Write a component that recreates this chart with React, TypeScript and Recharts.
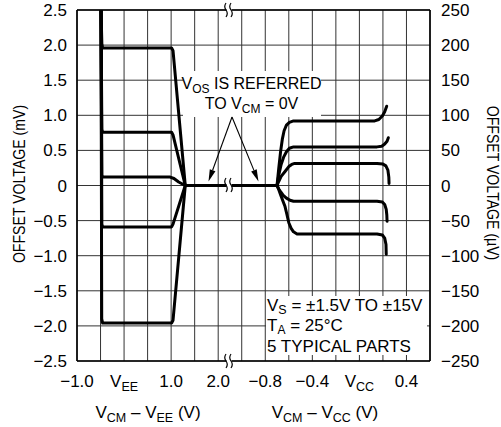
import React from 'react';
import { LineChart, Line, XAxis, YAxis, CartesianGrid, ReferenceLine } from 'recharts';

// ---- axis ticks -------------------------------------------------------
// Left section of x axis: VCM − VEE (V); right section: VCM − VCC (V)
const eeTickValues = [-1.0, 0, 1.0, 2.0];
const eeTickLabels = ['−1.0', 'V_EE', '1.0', '2.0'];
const ccTickValues = [-0.8, -0.4, 0, 0.4];
const ccTickLabels = ['−0.8', '−0.4', 'V_CC', '0.4'];

const mvTicks = [-2.5, -2.0, -1.5, -1.0, -0.5, 0, 0.5, 1.0, 1.5, 2.0, 2.5];
const mvTickLabels = ['−2.5', '−2.0', '−1.5', '−1.0', '−0.5', '0', '0.5', '1.0', '1.5', '2.0', '2.5'];
const uvTicks = [-250, -200, -150, -100, -50, 0, 50, 100, 150, 200, 250];
const uvTickLabels = ['−250', '−200', '−150', '−100', '−50', '0', '50', '100', '150', '200', '250'];

// ---- data: 5 typical parts near VEE (v = VCM − VEE in V, mv = offset in mV)
const partEE1 = [
  { v: -0.49, mv: 2.5 }, { v: -0.472, mv: 2.02 }, { v: -0.455, mv: 1.96 },
  { v: 1.01, mv: 1.96 }, { v: 1.04, mv: 1.92 }, { v: 1.3, mv: 0 },
];
const partEE2 = [
  { v: -0.49, mv: 2.5 }, { v: -0.472, mv: 0.8 }, { v: -0.455, mv: 0.76 },
  { v: 1.01, mv: 0.76 }, { v: 1.04, mv: 0.72 }, { v: 1.3, mv: 0 },
];
const partEE3 = [
  { v: -0.49, mv: 2.5 }, { v: -0.472, mv: 0.15 }, { v: -0.455, mv: 0.12 },
  { v: 0.98, mv: 0.12 }, { v: 1.06, mv: 0.1 }, { v: 1.16, mv: 0.05 }, { v: 1.3, mv: 0 },
];
const partEE4 = [
  { v: -0.49, mv: 2.5 }, { v: -0.472, mv: -0.55 }, { v: -0.455, mv: -0.59 },
  { v: 1.01, mv: -0.59 }, { v: 1.04, mv: -0.55 }, { v: 1.3, mv: 0 },
];
const partEE5 = [
  { v: -0.49, mv: 2.5 }, { v: -0.475, mv: -1.9 }, { v: -0.455, mv: -1.96 },
  { v: 1.01, mv: -1.96 }, { v: 1.04, mv: -1.92 }, { v: 1.3, mv: 0 },
];

// common reference segment (VOS referred to VCM = 0V)
const zeroStartEE = 1.3;   // V above VEE
const zeroEndCC = -0.70;   // V below VCC

// ---- data: 5 typical parts near VCC (v = VCM − VCC in V, uv = offset in µV)
const partCC1 = [
  { v: -0.70, uv: 0 }, { v: -0.685, uv: 25 }, { v: -0.67, uv: 48 }, { v: -0.655, uv: 66 },
  { v: -0.64, uv: 78 }, { v: -0.62, uv: 86 }, { v: -0.595, uv: 90 }, { v: -0.56, uv: 92 },
  { v: 0.13, uv: 92 }, { v: 0.165, uv: 94 }, { v: 0.195, uv: 99 }, { v: 0.215, uv: 105 }, { v: 0.232, uv: 113 },
];
const partCC2 = [
  { v: -0.70, uv: 0 }, { v: -0.685, uv: 15 }, { v: -0.665, uv: 30 }, { v: -0.645, uv: 40 },
  { v: -0.62, uv: 48 }, { v: -0.595, uv: 53 }, { v: -0.56, uv: 55 },
  { v: 0.15, uv: 55 }, { v: 0.19, uv: 56 }, { v: 0.215, uv: 59 }, { v: 0.235, uv: 63 }, { v: 0.246, uv: 68 },
];
const partCC3 = [
  { v: -0.70, uv: 0 }, { v: -0.685, uv: 6 }, { v: -0.665, uv: 13 }, { v: -0.632, uv: 20 },
  { v: -0.60, uv: 27 }, { v: -0.575, uv: 30 }, { v: -0.55, uv: 31.5 },
  { v: 0.15, uv: 31.5 }, { v: 0.2, uv: 30.5 }, { v: 0.225, uv: 28 }, { v: 0.242, uv: 22 },
  { v: 0.25, uv: 12 }, { v: 0.252, uv: 3 },
];
const partCC4 = [
  { v: -0.70, uv: 0 }, { v: -0.685, uv: -5 }, { v: -0.665, uv: -10 }, { v: -0.647, uv: -14 },
  { v: -0.62, uv: -18 }, { v: -0.59, uv: -21 }, { v: -0.56, uv: -22.5 },
  { v: 0.15, uv: -22.5 }, { v: 0.195, uv: -23.5 }, { v: 0.215, uv: -27 }, { v: 0.228, uv: -34 },
  { v: 0.233, uv: -42 }, { v: 0.235, uv: -51 },
];
const partCC5 = [
  { v: -0.70, uv: 0 }, { v: -0.685, uv: -6 }, { v: -0.67, uv: -13 }, { v: -0.65, uv: -22 },
  { v: -0.632, uv: -30 }, { v: -0.615, uv: -42 }, { v: -0.6, uv: -53 }, { v: -0.58, uv: -61 },
  { v: -0.56, uv: -66 }, { v: -0.53, uv: -69 },
  { v: 0.15, uv: -69 }, { v: 0.195, uv: -70.5 }, { v: 0.215, uv: -75 }, { v: 0.226, uv: -84 }, { v: 0.228, uv: -98 },
];

// ---- broken x axis: one grid division = 0.5V (VEE side) / 0.2V (VCC side)
const posEE = (v: number) => (v + 1.0) * 2;
const posCC = (v: number) => 8 + (v + 0.8) * 5;
const gridPositions = Array.from({ length: 16 }, (_, i) => i);

const eeCurves = [partEE1, partEE2, partEE3, partEE4, partEE5].map((c) => c.map((p) => ({ x: posEE(p.v), y: p.mv })));
const ccCurves = [partCC1, partCC2, partCC3, partCC4, partCC5].map((c) => c.map((p) => ({ x: posCC(p.v), y: p.uv })));
const zeroLine = [{ x: posEE(zeroStartEE), y: 0 }, { x: posCC(zeroEndCC), y: 0 }];

const xLabelMap = new Map<number, string>();
eeTickValues.forEach((v, i) => xLabelMap.set(Math.round(posEE(v) * 100) / 100, eeTickLabels[i]));
ccTickValues.forEach((v, i) => xLabelMap.set(Math.round(posCC(v) * 100) / 100, ccTickLabels[i]));

const FONT = '"Liberation Sans", Arial, Helvetica, sans-serif';

const Sub = ({ main, sub, size = 17, subSize = 12.5 }: { main: string; sub: string; size?: number; subSize?: number }) => (
  <>
    <tspan fontSize={size}>{main}</tspan>
    <tspan fontSize={subSize} dy={4}>{sub}</tspan>
    <tspan fontSize={size} dy={-4}>{''}</tspan>
  </>
);

const renderLabel = (label: string) => {
  if (label.includes('_')) {
    const [m, s] = label.split('_');
    return <Sub main={m} sub={s} />;
  }
  return label;
};

const XTick = (props: any) => {
  const { x, payload } = props;
  const key = Math.round(payload.value * 100) / 100;
  const label = xLabelMap.get(key);
  if (!label) return null;
  return (
    <text x={x} y={387} textAnchor="middle" fontSize={17} fontFamily={FONT} fill="#000">
      {renderLabel(label)}
    </text>
  );
};

const LeftTick = (props: any) => {
  const { y, payload } = props;
  const idx = mvTicks.findIndex((t) => Math.abs(t - payload.value) < 1e-6);
  return (
    <text x={67} y={y + 6} textAnchor="end" fontSize={17} fontFamily={FONT} fill="#000">
      {mvTickLabels[idx]}
    </text>
  );
};

const RightTick = (props: any) => {
  const { y, payload } = props;
  const idx = uvTicks.findIndex((t) => Math.abs(t - payload.value) < 1e-6);
  return (
    <text x={441} y={y + 6} textAnchor="start" fontSize={17} fontFamily={FONT} fill="#000">
      {uvTickLabels[idx]}
    </text>
  );
};

const BreakMark = ({ x, y, gap }: { x: number; y: number; gap: number }) => (
  <g>
    <rect x={x - 2.5} y={y - gap} width={5} height={gap * 2} fill="#fff" />
    {[x - 3, x + 2].map((xx, i) => (
      <path key={i} d={`M ${xx} ${y - 7} q -2.5 3.5 0 7 t 0 7`} fill="none" stroke="#000" strokeWidth={1.2} />
    ))}
  </g>
);

const Arrow = ({ x1, y1, x2, y2 }: { x1: number; y1: number; x2: number; y2: number }) => {
  const dx = x2 - x1;
  const dy = y2 - y1;
  const len = Math.hypot(dx, dy);
  const ux = dx / len;
  const uy = dy / len;
  const hl = 12;
  const hw = 3;
  const bx = x2 - ux * hl;
  const by = y2 - uy * hl;
  const pts = `${x2},${y2} ${bx - uy * hw},${by + ux * hw} ${bx + uy * hw},${by - ux * hw}`;
  return (
    <g>
      <line x1={x1} y1={y1} x2={bx} y2={by} stroke="#000" strokeWidth={1.1} />
      <polygon points={pts} fill="#000" />
    </g>
  );
};

export default function App() {
  return (
    <div style={{ position: 'absolute', left: 0, top: 0, width: 501, height: 427, background: '#fff' }}>
      <LineChart width={501} height={427} margin={{ top: 10, right: 11, bottom: 26, left: 7 }}>
        <CartesianGrid yAxisId="mv" stroke="#333" strokeWidth={1} />
        <XAxis
          type="number"
          dataKey="x"
          domain={[0, 15]}
          ticks={gridPositions}
          interval={0}
          allowDataOverflow
          tick={<XTick />}
          tickLine={false}
          axisLine={{ stroke: '#000', strokeWidth: 1.6 }}
          height={40}
        />
        <YAxis
          yAxisId="mv"
          type="number"
          domain={[-2.5, 2.5]}
          ticks={mvTicks}
          interval={0}
          allowDataOverflow
          tick={<LeftTick />}
          tickLine={false}
          axisLine={{ stroke: '#000', strokeWidth: 1.6 }}
          width={70}
        />
        <YAxis
          yAxisId="uv"
          orientation="right"
          type="number"
          domain={[-250, 250]}
          ticks={uvTicks}
          interval={0}
          allowDataOverflow
          tick={<RightTick />}
          tickLine={false}
          axisLine={{ stroke: '#000', strokeWidth: 1.6 }}
          width={60}
        />
        <ReferenceLine yAxisId="mv" y={2.5} stroke="#000" strokeWidth={1.6} />
        {eeCurves.map((d, i) => (
          <Line key={`ee${i}`} data={d} dataKey="y" yAxisId="mv" type="linear" stroke="#000" strokeWidth={3}
            strokeLinejoin="round" strokeLinecap="round" dot={false} activeDot={false} isAnimationActive={false} />
        ))}
        <Line data={zeroLine} dataKey="y" yAxisId="mv" type="linear" stroke="#000" strokeWidth={3}
          dot={false} activeDot={false} isAnimationActive={false} />
        {ccCurves.map((d, i) => (
          <Line key={`cc${i}`} data={d} dataKey="y" yAxisId="uv" type="linear" stroke="#000" strokeWidth={3}
            strokeLinejoin="round" strokeLinecap="round" dot={false} activeDot={false} isAnimationActive={false} />
        ))}
      </LineChart>

      <svg width={501} height={427} style={{ position: 'absolute', left: 0, top: 0, pointerEvents: 'none' }}
        fontFamily={FONT} fill="#000">
        {/* annotation */}
        <rect x={183} y={71} width={138} height={46} fill="#fff" />
        <text x={251.5} y={89} textAnchor="middle" fontSize={16}>
          <tspan>V</tspan><tspan fontSize={12} dy={4}>OS</tspan><tspan dy={-4}> IS REFERRED</tspan>
        </text>
        <text x={251.5} y={109} textAnchor="middle" fontSize={16}>
          <tspan>TO V</tspan><tspan fontSize={12} dy={4}>CM</tspan><tspan dy={-4}> = 0V</tspan>
        </text>
        <Arrow x1={232} y1={117} x2={208.5} y2={181.5} />
        <Arrow x1={232} y1={117} x2={258.5} y2={181.5} />

        {/* conditions box */}
        <rect x={266} y={296} width={161} height={59} fill="#fff" />
        <text x={267} y={311} fontSize={17}>
          <tspan>V</tspan><tspan fontSize={12.5} dy={3}>S</tspan><tspan dy={-3}> = ±1.5V TO ±15V</tspan>
        </text>
        <text x={267} y={331} fontSize={17}>
          <tspan>T</tspan><tspan fontSize={12} dy={2.5}>A</tspan><tspan dy={-2.5}> = 25°C</tspan>
        </text>
        <text x={267} y={352} fontSize={17}>5 TYPICAL PARTS</text>

        {/* axis breaks */}
        <BreakMark x={229} y={10} gap={3} />
        <BreakMark x={229} y={185} gap={4} />
        <BreakMark x={229} y={361} gap={3} />

        {/* axis titles */}
        <text transform="translate(25,184) rotate(-90) scale(0.83,1)" textAnchor="middle" fontSize={17}>
          OFFSET VOLTAGE (mV)
        </text>
        <text transform="translate(487,183) rotate(90) scale(0.83,1)" textAnchor="middle" fontSize={17}>
          OFFSET VOLTAGE (µV)
        </text>
        <text x={148} y={418} textAnchor="middle" fontSize={17}>
          <tspan>V</tspan><tspan fontSize={12.5} dy={4}>CM</tspan><tspan dy={-4}> – V</tspan>
          <tspan fontSize={12.5} dy={4}>EE</tspan><tspan dy={-4}> (V)</tspan>
        </text>
        <text x={325} y={418} textAnchor="middle" fontSize={17}>
          <tspan>V</tspan><tspan fontSize={12.5} dy={4}>CM</tspan><tspan dy={-4}> – V</tspan>
          <tspan fontSize={12.5} dy={4}>CC</tspan><tspan dy={-4}> (V)</tspan>
        </text>
      </svg>
    </div>
  );
}
